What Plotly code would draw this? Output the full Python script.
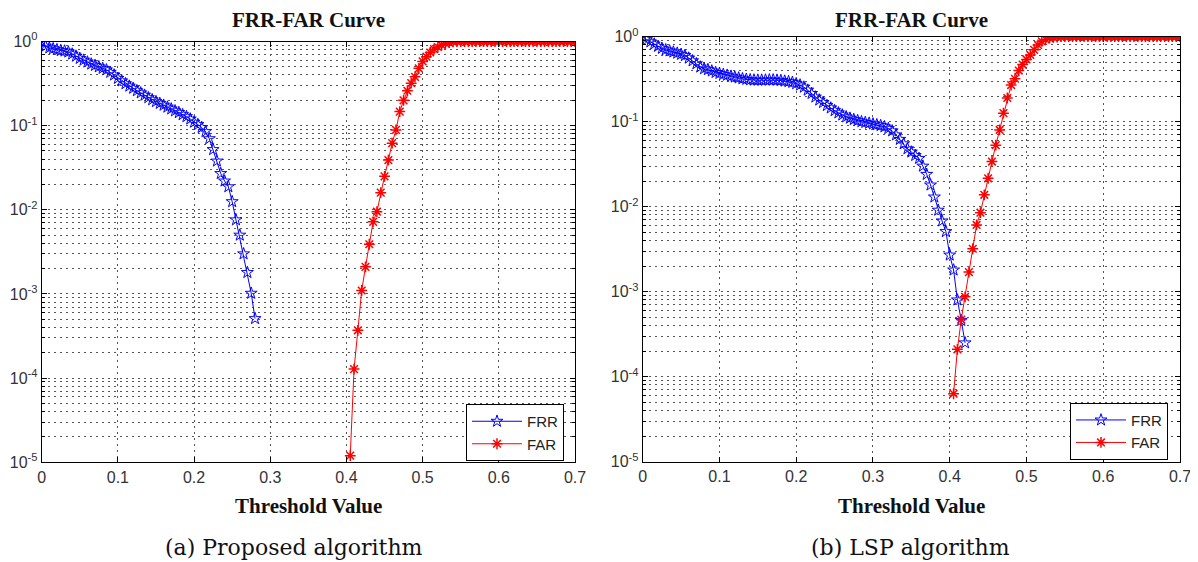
import plotly.graph_objects as go

# ---------------- data ----------------
step = 0.005

# (a) Proposed algorithm
frr_a_start = 0.0
frr_a = [1.0, 0.88, 0.84, 0.82, 0.80, 0.78, 0.77, 0.75, 0.71, 0.67,
         0.63, 0.60, 0.57, 0.54, 0.52, 0.50, 0.48, 0.46, 0.43, 0.40,
         0.365, 0.34, 0.315, 0.295, 0.278, 0.26, 0.245, 0.23, 0.215, 0.203,
         0.193, 0.184, 0.175, 0.166, 0.158, 0.150, 0.143, 0.135, 0.128, 0.120,
         0.110, 0.103, 0.095, 0.085, 0.070, 0.052, 0.038, 0.027, 0.022, 0.0188,
         0.0125, 0.0076, 0.0050, 0.0030, 0.0018, 0.00102, 0.00051]
far_a_start = 0.405
far_a = [1.2e-5, 1.28e-4, 3.7e-4, 1.1e-3, 2.1e-3, 3.9e-3, 7.2e-3, 9.5e-3, 0.016, 0.025,
         0.039, 0.062, 0.089, 0.147, 0.20, 0.26, 0.32, 0.38, 0.48, 0.58,
         0.66, 0.74, 0.81, 0.86, 0.91, 0.95, 0.97, 0.99,
         1.0, 1.0, 1.0, 1.0, 1.0, 1.0, 1.0, 1.0, 1.0, 1.0,
         1.0, 1.0, 1.0, 1.0, 1.0, 1.0, 1.0, 1.0, 1.0, 1.0,
         1.0, 1.0, 1.0, 1.0, 1.0, 1.0, 1.0, 1.0, 1.0, 1.0,
         1.0, 1.0]

# (b) LSP algorithm
frr_b_start = 0.0
frr_b = [1.0, 0.92, 0.87, 0.82, 0.77, 0.73, 0.70, 0.68, 0.66, 0.64,
         0.62, 0.60, 0.56, 0.52, 0.48, 0.44, 0.42, 0.41, 0.395, 0.38,
         0.37, 0.36, 0.352, 0.343, 0.335, 0.327, 0.32, 0.315, 0.311, 0.309,
         0.308, 0.308, 0.309, 0.31, 0.31, 0.308, 0.305, 0.30, 0.296, 0.29,
         0.28, 0.27, 0.255, 0.235, 0.215, 0.195, 0.18, 0.168, 0.155, 0.145,
         0.135, 0.127, 0.12, 0.114, 0.11, 0.106, 0.103, 0.10, 0.098, 0.096,
         0.094, 0.092, 0.09, 0.087, 0.083, 0.078, 0.070, 0.062, 0.055, 0.048,
         0.044, 0.040, 0.037, 0.030, 0.024, 0.018, 0.013, 0.0091, 0.0068, 0.0051,
         0.0027, 0.0018, 0.0008, 0.00046, 0.00025]
far_b_start = 0.405
far_b = [6.3e-5, 2.1e-4, 4.7e-4, 8.7e-4, 1.7e-3, 3.2e-3, 6.1e-3, 8.5e-3, 0.0138, 0.0216,
         0.034, 0.053, 0.080, 0.126, 0.19, 0.27, 0.32, 0.40, 0.47, 0.54,
         0.61, 0.70, 0.80, 0.88, 0.93, 0.96, 0.98, 0.99,
         1.0, 1.0, 1.0, 1.0, 1.0, 1.0, 1.0, 1.0, 1.0, 1.0,
         1.0, 1.0, 1.0, 1.0, 1.0, 1.0, 1.0, 1.0, 1.0, 1.0,
         1.0, 1.0, 1.0, 1.0, 1.0, 1.0, 1.0, 1.0, 1.0, 1.0,
         1.0, 1.0]

x_ticks = [0, 0.1, 0.2, 0.3, 0.4, 0.5, 0.6, 0.7]
x_ticklabels = ["0", "0.1", "0.2", "0.3", "0.4", "0.5", "0.6", "0.7"]
y_exponents = [-5, -4, -3, -2, -1, 0]
titles = ["FRR-FAR Curve", "FRR-FAR Curve"]
x_label = "Threshold Value"
captions = ["(a) Proposed algorithm", "(b) LSP algorithm"]


def thresholds(start, vals):
    return [round(start + i * step, 3) for i in range(len(vals))]


# The page body has an 8px margin, so the figure is drawn at (8, 8):
# make it 8px smaller on each axis and express screen pixels relative to it.
OFF = 8
W, H = 1198 - OFF, 562 - OFF


def px_x(p):
    return (p - OFF) / W


def px_y(p):
    return 1 - (p - OFF) / H


BLUE = "#0000ff"
RED = "#ff0000"
GRID = "#555555"
SANS = "Liberation Sans, Arial, sans-serif"
TICKFONT = dict(family=SANS, size=16, color="#333333")

fig = go.Figure()

panels = [
    dict(frr=frr_a, frr0=frr_a_start, far=far_a, far0=far_a_start, xa="x", ya="y", leg="legend"),
    dict(frr=frr_b, frr0=frr_b_start, far=far_b, far0=far_b_start, xa="x2", ya="y2", leg="legend2"),
]
for p in panels:
    fig.add_trace(go.Scatter(
        x=thresholds(p["frr0"], p["frr"]), y=p["frr"], name="FRR", mode="lines+markers",
        line=dict(color=BLUE, width=1),
        marker=dict(symbol="star-open", size=9, color=BLUE, line=dict(color=BLUE, width=1)),
        xaxis=p["xa"], yaxis=p["ya"], legend=p["leg"]))
    fig.add_trace(go.Scatter(
        x=thresholds(p["far0"], p["far"]), y=p["far"], name="FAR", mode="lines+markers",
        line=dict(color=RED, width=1),
        marker=dict(symbol="asterisk-open", size=9, color=RED, line=dict(color=RED, width=1.5)),
        xaxis=p["xa"], yaxis=p["ya"], legend=p["leg"]))

minor_vals = [m * 10.0 ** e for e in y_exponents[:-1] for m in range(2, 10)]
y_tickvals = [10.0 ** e for e in y_exponents]
y_ticktext = ["10<sup>%d</sup>" % e for e in y_exponents]

common_x = dict(range=[0, 0.7], tickmode="array", tickvals=x_ticks, ticktext=x_ticklabels,
                showline=True, linecolor="black", linewidth=1, mirror="ticks",
                ticks="inside", ticklen=5, tickcolor="black", zeroline=False,
                showgrid=True, gridcolor=GRID, gridwidth=1, griddash="2px,4px",
                tickfont=TICKFONT, fixedrange=True, automargin=False)
common_y = dict(type="log", range=[-5, 0], tickmode="array", tickvals=y_tickvals, ticktext=y_ticktext,
                showline=True, linecolor="black", linewidth=1, mirror="ticks",
                ticks="inside", ticklen=5, tickcolor="black", zeroline=False,
                showgrid=True, gridcolor=GRID, gridwidth=1, griddash="2px,4px",
                tickfont=TICKFONT, fixedrange=True, automargin=False,
                minor=dict(tickmode="array", tickvals=minor_vals, ticks="inside", ticklen=3,
                           tickcolor="black", showgrid=True, gridcolor=GRID, gridwidth=1,
                           griddash="2px,4px"))

legend_common = dict(xanchor="left", yanchor="top", bordercolor="black", borderwidth=1,
                     bgcolor="white", itemwidth=50,
                     font=dict(family=SANS, size=15, color="#222222"))

fig.update_layout(
    width=W, height=H, margin=dict(l=0, r=0, t=0, b=0, autoexpand=False),
    paper_bgcolor="white", plot_bgcolor="white",
    xaxis=dict(common_x, domain=[px_x(41.7), px_x(575)], anchor="y"),
    yaxis=dict(common_y, domain=[px_y(462.3), px_y(41.5)], anchor="x"),
    xaxis2=dict(common_x, domain=[px_x(642.7), px_x(1180)], anchor="y2"),
    yaxis2=dict(common_y, domain=[px_y(461.7), px_y(36.7)], anchor="x2"),
    legend=dict(legend_common, x=px_x(466), y=px_y(404)),
    legend2=dict(legend_common, x=px_x(1070), y=px_y(402.7)),
    showlegend=True,
)

serif = "Liberation Serif, Times New Roman, serif"
cm = "DejaVu Serif, serif"
ann = []


def add_text(text, x, y, fam, size, xanchor="center", bold=False):
    ann.append(dict(text=("<b>%s</b>" % text) if bold else text,
                    x=px_x(x), y=px_y(y), xref="paper", yref="paper",
                    showarrow=False, xanchor=xanchor, yanchor="middle",
                    font=dict(family=fam, size=size, color="#111111")))


add_text(titles[0], 308, 20, serif, 21, bold=True)
add_text(titles[1], 911, 20.5, serif, 21, bold=True)
add_text(x_label, 308, 506, serif, 21, bold=True)
add_text(x_label, 911, 506, serif, 21, bold=True)
add_text(captions[0], 163, 547, cm, 22, xanchor="left")
add_text(captions[1], 910, 547, cm, 22)
fig.update_layout(annotations=ann)

fig.write_html("out.html")
